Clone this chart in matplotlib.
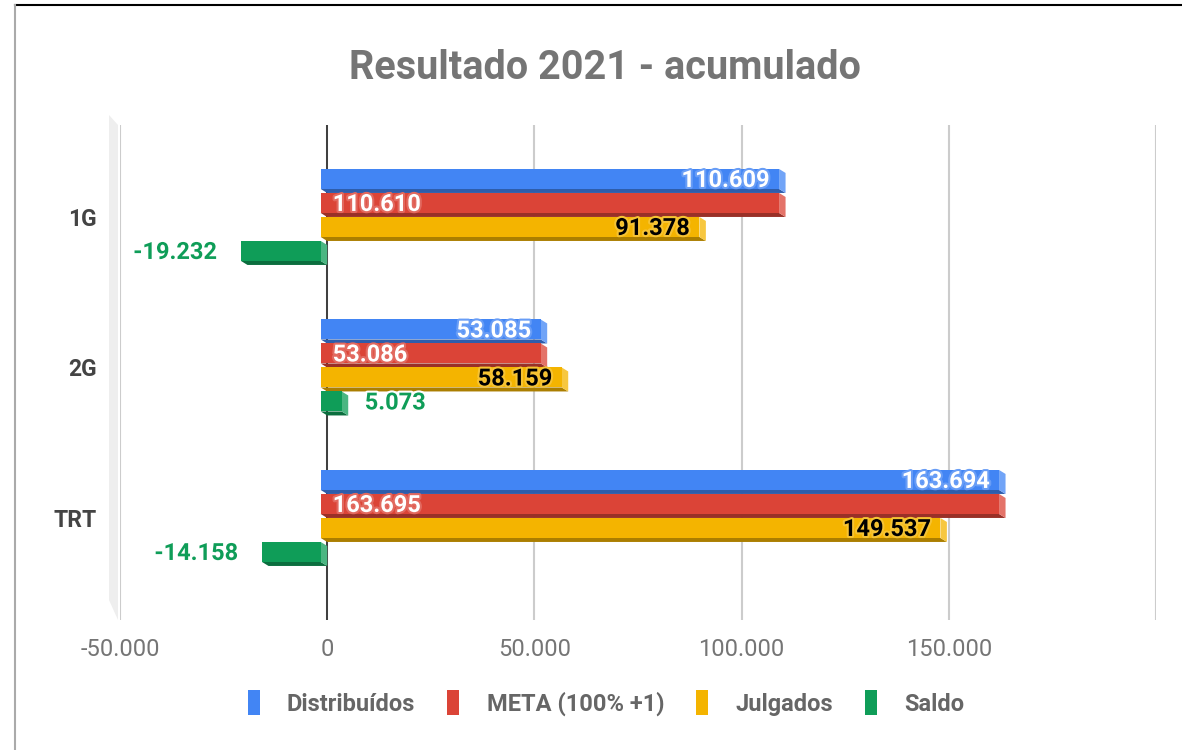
import numpy as np
import matplotlib.pyplot as plt
import matplotlib.colors as mc
import matplotlib.patheffects as pe
from matplotlib.patches import Polygon, Rectangle, Patch
from matplotlib.lines import Line2D

plt.rcParams['font.family'] = ['Roboto', 'DejaVu Sans']

# data
categories = ['1G', '2G', 'TRT']
series = ['Distribuídos', 'META (100% +1)', 'Julgados', 'Saldo']
distribuidos = [110609, 53085, 163694]
meta = [110610, 53086, 163695]
julgados = [91378, 58159, 149537]
saldo = [-19232, 5073, -14158]
x_ticks = [-50000, 0, 50000, 100000, 150000, 200000]
x_tick_labels = ['-50.000', '0', '50.000', '100.000', '150.000', '']

values = [distribuidos, meta, julgados, saldo]
colors = ['#4285F4', '#DB4437', '#F4B400', '#0F9D58']

W, H = 1182, 750
fig = plt.figure(figsize=(W / 100, H / 100), dpi=100)

# axes in pixel box
ax_l, ax_r, ax_t, ax_b = 120, 1156, 125, 620
ax = fig.add_axes([ax_l / W, 1 - ax_b / H, (ax_r - ax_l) / W, (ax_b - ax_t) / H])
xmin, xmax = -50000, 200000
ymin, ymax = 2.678, -0.611
ax.set_xlim(xmin, xmax)
ax.set_ylim(ymin, ymax)

sx = (xmax - xmin) / (ax_r - ax_l)
sy = abs(ymin - ymax) / (ax_b - ax_t)
ox, oy = 6.5 * sx, 4 * sy     # 3d depth offset
h = 20 * sy
slot = 24 * sy

for s in ax.spines.values():
    s.set_visible(False)

for xt in x_ticks:
    ax.axvline(xt, color='#cccccc', lw=1.5, zorder=0)
ax.axvline(0, color='#333333', lw=1.3, zorder=1)


def mix(c, other, t):
    a = np.array(mc.to_rgb(c))
    b = np.array(mc.to_rgb(other))
    return tuple(a * (1 - t) + b * t)


px2pt = 0.72
dy = -1.5 * px2pt   # small downward nudge of value labels
lab_font = dict(fontsize=17, fontweight='bold')

for si, (vals, col) in enumerate(zip(values, colors)):
    for ci, v in enumerate(vals):
        top = ci - 2 * slot + si * slot
        bot = top + h
        lo, hi = min(0, v), max(0, v)
        # bottom face
        ax.add_patch(Polygon([(lo - ox, bot), (hi - ox, bot), (hi, bot + oy), (lo, bot + oy)],
                             closed=True, fc=mix(col, 'black', 0.3), ec='none', zorder=2))
        # right face
        ax.add_patch(Polygon([(hi - ox, top), (hi, top + oy), (hi, bot + oy), (hi - ox, bot)],
                             closed=True, fc=mix(col, 'white', 0.25), ec='none', zorder=2))
        # front face
        ax.add_patch(Rectangle((lo - ox, top), hi - lo, h, fc=col, ec='none', zorder=3))

        txt = f"{v:,}".replace(',', '.')
        yc = top + h / 2
        halo = [pe.withStroke(linewidth=3, foreground=mix(col, 'white', 0.2))]
        if si == 0:
            ax.annotate(txt, (hi - ox, yc), xytext=(-9.5 * px2pt, dy), textcoords='offset points',
                        ha='right', va='center', color='white', zorder=5, path_effects=halo, **lab_font)
        elif si == 1:
            ax.annotate(txt, (lo - ox, yc), xytext=(12 * px2pt, dy), textcoords='offset points',
                        ha='left', va='center', color='white', zorder=5, path_effects=halo, **lab_font)
        elif si == 2:
            ax.annotate(txt, (hi - ox, yc), xytext=(-9.5 * px2pt, dy), textcoords='offset points',
                        ha='right', va='center', color='black', zorder=5, path_effects=halo, **lab_font)
        else:
            white = [pe.withStroke(linewidth=3, foreground='white')]
            if v < 0:
                ax.annotate(txt, (lo - ox, yc), xytext=(-24 * px2pt, dy), textcoords='offset points',
                            ha='right', va='center', color=col, zorder=5, path_effects=white, **lab_font)
            else:
                ax.annotate(txt, (hi - ox, yc), xytext=(23 * px2pt, dy), textcoords='offset points',
                            ha='left', va='center', color=col, zorder=5, path_effects=white, **lab_font)

ax.set_xticks(x_ticks)
ax.set_xticklabels(x_tick_labels, fontsize=17, color='#757575')
ax.set_yticks(range(len(categories)))
ax.set_yticklabels(categories, fontsize=16.5, fontweight='bold', color='#444444')
ax.tick_params(axis='x', length=0, pad=13)
ax.tick_params(axis='y', length=0, pad=17)


# left 3d wall
def fpx(pts):
    return [(x / W, 1 - y / H) for x, y in pts]


fig.add_artist(Polygon(fpx([(109, 115), (118, 125), (118, 620), (109, 600)]), closed=True,
                       fc='#eeeeee', ec='none', transform=fig.transFigure, zorder=0))

# frame lines
fig.add_artist(Line2D([15 / W, 1], [1 - 5 / H, 1 - 5 / H], color='black', lw=1.5, transform=fig.transFigure))
fig.add_artist(Line2D([15 / W, 15 / W], [0, 1 - 5 / H], color='#aaaaaa', lw=1.5, transform=fig.transFigure))

fig.text(605 / W, 1 - 68 / H, 'Resultado 2021 - acumulado', ha='center', va='center',
         fontsize=28.5, fontweight='bold', color='#757575')

handles = [Patch(fc=c, ec='none') for c in colors]
leg = fig.legend(handles, series, loc='center', bbox_to_anchor=(606 / W, 1 - 703 / H), ncol=4,
                 frameon=False, handlelength=0.52, handleheight=1.25, handletextpad=1.15,
                 columnspacing=1.35, prop=dict(size=17, weight='bold'))
for t in leg.get_texts():
    t.set_color('#666666')

fig.savefig('out.png', dpi=100)
